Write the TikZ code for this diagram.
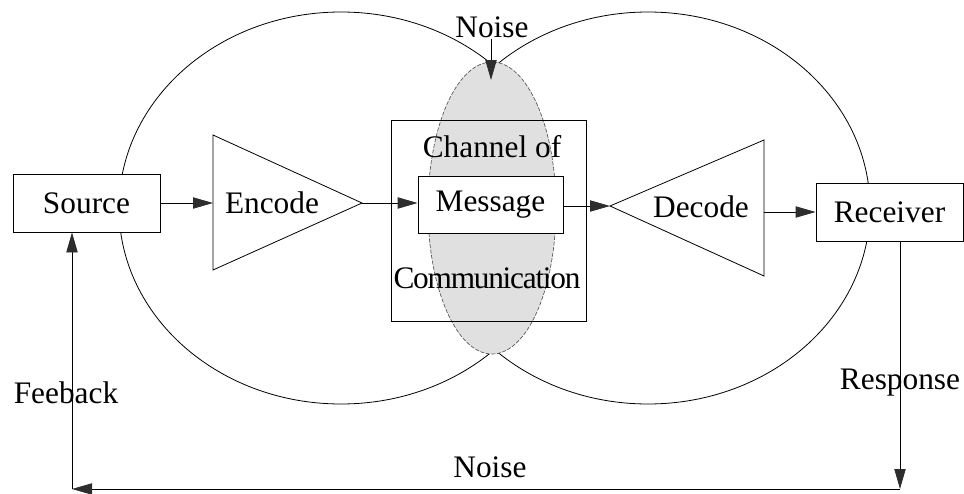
\documentclass[tikz,border=0pt]{standalone}
\usepackage{fontspec}
\setmainfont{Liberation Serif}
\usetikzlibrary{arrows.meta}

\tikzset{every picture/.style={line width=0.6pt}}
\tikzset{
  lbl/.style={inner sep=0.75pt, font=\fontsize{23.5}{27}\selectfont},
  box/.style={draw, fill=white, inner sep=0pt, lbl},
  arr/.style={-{Triangle[length=15pt,width=8.5pt,color={rgb, 255:red, 45; green, 45; blue, 45 }]}},
  lensline/.style={color={rgb, 255:red, 85; green, 85; blue, 85 }, dash pattern=on 3pt off 1.2pt, line width=0.5pt},
  leftc/.style={x radius=222, y radius=196},
}

\begin{document}
\begin{tikzpicture}[x=0.75pt,y=0.75pt,yscale=-1,xscale=1]
\useasboundingbox (0,0) rectangle (964,493);
%Outer arcs
\begin{scope}[even odd rule]
\clip (0,0) rectangle (964,493) (648,208) ellipse [leftc];
\draw (341,208) ellipse [leftc];
\end{scope}
\begin{scope}[even odd rule]
\clip (0,0) rectangle (964,493) (341,208) ellipse [leftc];
\draw (648,208) ellipse [leftc];
\end{scope}
%Lens where the two circles meet
\fill [color={rgb, 255:red, 224; green, 224; blue, 224 }] (492,208) ellipse [x radius=64, y radius=146];
\draw [lensline] (492,208) ellipse [x radius=64, y radius=146];

%Channel box
\node [draw, inner sep=0pt, minimum width=146.25pt, minimum height=150.75pt] (channel) at (488.5,220.5) {};
\node [lbl] (chtop) at (492,147) {Channel of};
\node [lbl, font=\fontsize{23.5}{27}\selectfont\addfontfeatures{LetterSpace=-4}] (chbot) at (487,278) {Communication};

%Boxes
\node [box, minimum width=110.25pt, minimum height=43.5pt] (source) at (86.5,203) {Source};
\node [box, minimum width=108.75pt, minimum height=42.75pt] (message) at (490.5,204.5) {Message};
\node [box, minimum width=110.25pt, minimum height=43.5pt] (receiver) at (889.5,212) {Receiver};

%Triangles
\draw (213,135) -- (362,203) -- (213,270) -- cycle ;
\coordinate (encin) at (213,203);
\coordinate (encout) at (362,203);
\node [lbl] (encode) at (272,203) {Encode};
\draw (764,140) -- (610,206) -- (764,276) -- cycle ;
\coordinate (decin) at (610,206);
\coordinate (decout) at (764,212);
\node [lbl] (decode) at (701,207) {Decode};

%Labels
\node [lbl] (noisetop) at (492,27) {Noise};
\node [lbl] (noisebot) at (490,467) {Noise};
\node [lbl] (feedback) at (66,393) {Feeback};
\node [lbl] (response) at (900,383) {Response};
\coordinate (ntip) at (491,80);
\coordinate (resp) at (900,489);
\coordinate (fb) at (72,489);

%Arrows
\draw [arr] (source.east) -- (encin);
\draw [arr] (encout) -- (encout -| message.west);
\draw [arr] (message.east |- decin) -- (decin);
\draw [arr] (decout) -- (decout -| receiver.west);
\draw [arr] (noisetop.south -| ntip) -- (ntip);
\draw [arr] (receiver.south -| resp) -- (resp);
\draw [arr] (resp) -- (fb);
\draw [arr] (fb) -- (fb |- source.south);
\end{tikzpicture}
\end{document}
